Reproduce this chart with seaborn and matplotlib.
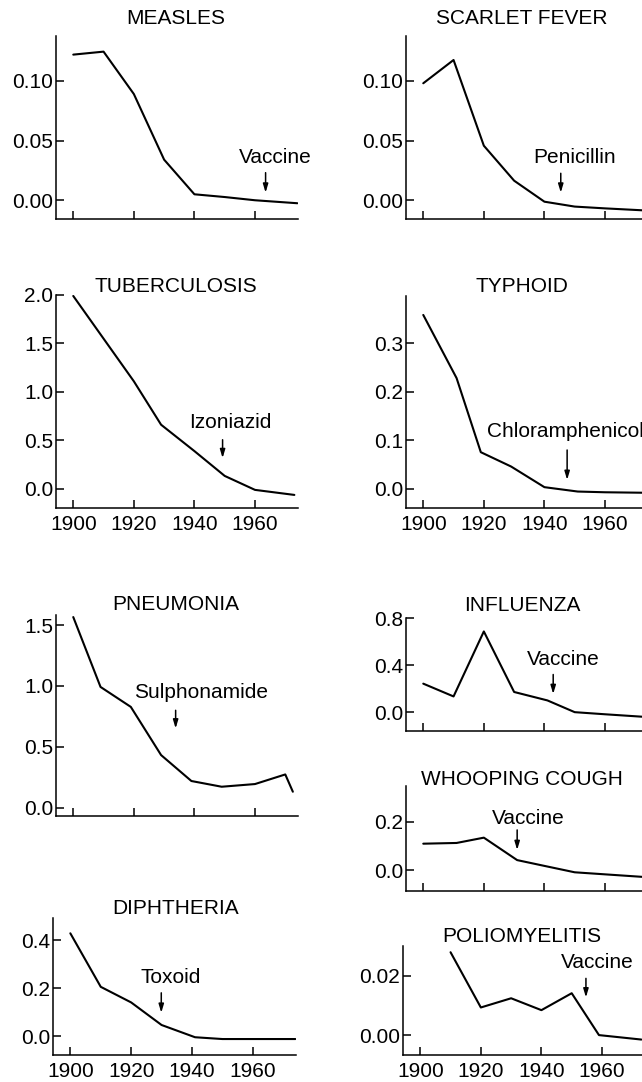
import matplotlib
matplotlib.use("Agg")
import matplotlib.pyplot as plt
import seaborn as sns

sns.set_style("ticks")
plt.rcParams['font.family'] = ['Liberation Sans', 'DejaVu Sans']
FS = 15

# --------- Dades (llegides del gràfic) ---------
measles_years = [1900, 1910, 1920, 1930, 1940, 1950, 1960, 1974]
measles_vals = [0.122, 0.1245, 0.089, 0.034, 0.005, 0.0027, 0.0, -0.0025]

scarlet_years = [1900, 1910, 1920, 1930, 1940, 1950, 1960, 1973]
scarlet_vals = [0.098, 0.1175, 0.0457, 0.0164, -0.0012, -0.0053, -0.0068, -0.0085]

tb_years = [1900, 1910, 1920, 1929, 1940, 1950, 1960, 1973]
tb_vals = [1.99, 1.55, 1.11, 0.662, 0.39, 0.134, -0.01, -0.062]

typhoid_years = [1900, 1911, 1919, 1929, 1940, 1951, 1960, 1973]
typhoid_vals = [0.358, 0.228, 0.0755, 0.046, 0.0035, -0.0055, -0.007, -0.008]

pneumonia_years = [1900, 1909, 1919, 1929, 1939, 1949, 1960, 1970, 1972.5]
pneumonia_vals = [1.566, 0.992, 0.828, 0.432, 0.219, 0.172, 0.194, 0.273, 0.131]

influenza_years = [1900, 1910, 1920, 1930, 1941, 1950, 1960, 1973]
influenza_vals = [0.243, 0.134, 0.688, 0.172, 0.10, 0.0, -0.018, -0.04]

whooping_years = [1900, 1911, 1920, 1931, 1940, 1950, 1960, 1973]
whooping_vals = [0.109, 0.112, 0.134, 0.041, 0.017, -0.0095, -0.018, -0.029]

diph_years = [1900, 1910, 1920, 1930, 1941, 1950, 1960, 1974]
diph_vals = [0.428, 0.205, 0.14, 0.046, -0.005, -0.0125, -0.0125, -0.0125]

polio_years = [1910, 1920, 1930, 1940, 1950, 1959, 1973]
polio_vals = [0.0279, 0.0093, 0.0124, 0.0084, 0.0141, 0.0, -0.0015]

year_ticks = [1900, 1920, 1940, 1960]

# title, anys, valors, rect (px: left, top, width, height), ylim, yticks, format,
# etiquetes x, title (x, baseline) px, text anotacio, (x text, y text), (x fletxa, y0, y1), ha
panels = [
    ("MEASLES", measles_years, measles_vals, (56, 36, 242, 183), (-0.0157, 0.1376),
     [0, 0.05, 0.10], "{:.2f}", False, (176, 24),
     "Vaccine", (1966.8, 0.031), (1963.5, 0.0231, 0.0064), "center"),
    ("SCARLET FEVER", scarlet_years, scarlet_vals, (406, 36, 242, 183), (-0.0157, 0.1376),
     [0, 0.05, 0.10], "{:.2f}", False, (522, 24),
     "Penicillin", (1949.8, 0.031), (1945.4, 0.0226, 0.0064), "center"),
    ("TUBERCULOSIS", tb_years, tb_vals, (56, 295, 242, 213.3), (-0.2, 2.0),
     [0, 0.5, 1.0, 1.5, 2.0], "{:.1f}", True, (176, 291.7),
     "Izoniazid", (1952.0, 0.628), (1949.3, 0.507, 0.318), "center"),
    ("TYPHOID", typhoid_years, typhoid_vals, (406, 296, 242, 212.3), (-0.04, 0.397),
     [0, 0.1, 0.2, 0.3], "{:.1f}", True, (522, 291.7),
     "Chloramphenicol", (1920.9, 0.1076), (1947.5, 0.080, 0.0185), "left"),
    ("PNEUMONIA", pneumonia_years, pneumonia_vals, (56, 615, 242, 200.7), (-0.066, 1.583),
     [0, 0.5, 1.0, 1.5], "{:.1f}", False, (176, 610),
     "Sulphonamide", (1942.1, 0.897), (1933.8, 0.80, 0.651), "center"),
    ("INFLUENZA", influenza_years, influenza_vals, (406, 618.3, 242, 112.4), (-0.158, 0.8),
     [0, 0.4, 0.8], "{:.1f}", False, (522, 610.7),
     "Vaccine", (1946.2, 0.398), (1942.9, 0.321, 0.155), "center"),
    ("WHOOPING COUGH", whooping_years, whooping_vals, (406, 786, 242, 105), (-0.087, 0.348),
     [0, 0.2], "{:.1f}", False, (522, 785),
     "Vaccine", (1934.7, 0.19), (1931.0, 0.166, 0.083), "center"),
    ("DIPHTHERIA", diph_years, diph_vals, (53, 917.7, 243, 137.3), (-0.079, 0.493),
     [0, 0.2, 0.4], "{:.1f}", True, (175.5, 914),
     "Toxoid", (1932.9, 0.22), (1929.9, 0.18, 0.097), "center"),
    ("POLIOMYELITIS", polio_years, polio_vals, (403, 945.7, 242, 109.3), (-0.0067, 0.0301),
     [0, 0.02], "{:.2f}", True, (522, 941.7),
     "Vaccine", (1958.3, 0.0225), (1954.7, 0.0191, 0.0127), "center"),
]

W, H = 642, 1082
fig = plt.figure(figsize=(W / 100, H / 100), dpi=100)

for (title, yrs, vals, rect, ylim, yt, fmt, xlab, tpos,
     note, npos, arr, ha) in panels:
    l, t, w, h = rect
    ax = fig.add_axes([l / W, 1 - (t + h) / H, w / W, h / H])
    sns.lineplot(x=yrs, y=vals, ax=ax, color="black", lw=1.5)
    ax.set_xlim(1894.3, 1974.2)
    ax.set_ylim(*ylim)
    ax.set_xticks(year_ticks)
    ax.set_yticks(yt)
    ax.set_yticklabels([fmt.format(v) for v in yt], fontsize=FS)
    if xlab:
        ax.set_xticklabels([str(y) for y in year_ticks], fontsize=FS)
    else:
        ax.set_xticklabels([])
    ax.tick_params(axis="both", direction="in", length=6, width=1.1, colors="black")
    ax.tick_params(axis="y", pad=2)
    ax.tick_params(axis="x", pad=5)
    for s in ["top", "right"]:
        ax.spines[s].set_visible(False)
    for s in ["left", "bottom"]:
        ax.spines[s].set_linewidth(1.1)
        ax.spines[s].set_color("black")
    ax.set_xlabel("")
    ax.set_ylabel("")
    ax.patch.set_alpha(0)

    fig.text(tpos[0] / W, 1 - tpos[1] / H, title, ha="center", va="baseline",
             fontsize=FS, color="black")
    ax.text(npos[0], npos[1], note, ha=ha, va="baseline", fontsize=FS,
            color="black", clip_on=False)
    ax.annotate("", xy=(arr[0], arr[2]), xytext=(arr[0], arr[1]),
                arrowprops=dict(arrowstyle="-|>,head_length=0.5,head_width=0.15",
                                color="black", lw=1.1, shrinkA=0, shrinkB=0))

fig.savefig("out.png", dpi=100)
